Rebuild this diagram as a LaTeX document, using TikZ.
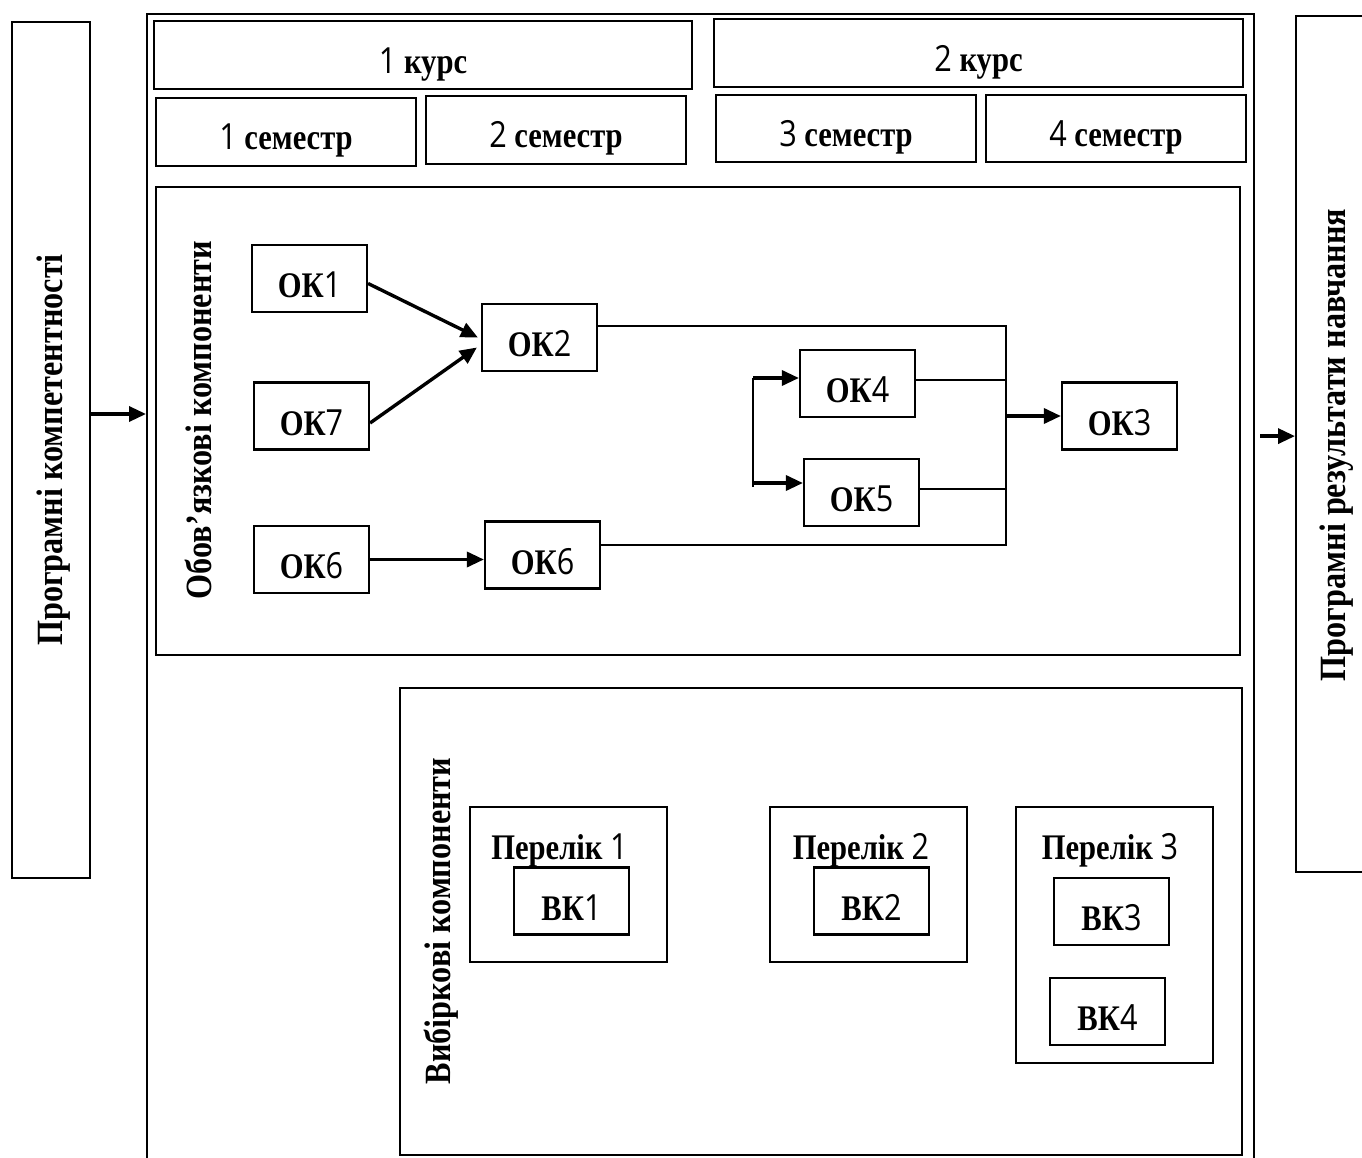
\documentclass[tikz,border=0pt]{standalone}
\usepackage{fontspec}
\setmainfont{Liberation Serif}
\newfontfamily\digitfont{Open Sans}
\usetikzlibrary{arrows.meta}
\newcommand\nd[1]{{\digitfont\mdseries #1}}
\newcommand\cx[1]{\scalebox{0.85}[1]{#1}}
\newcommand\vx[1]{\scalebox{0.87}[1]{#1}}
\begin{document}
\begin{tikzpicture}[x=1pt,y=-1pt,
  box/.style={draw, line width=2.2pt, inner sep=0pt},
  okbox/.style={box, minimum width=115pt, minimum height=67pt},
  txt/.style={font=\fontsize{36}{40}\selectfont\bfseries, inner sep=0pt, anchor=base},
  vtxt/.style={font=\fontsize{37}{40}\selectfont\bfseries, inner sep=0pt, rotate=90},
  ln/.style={line width=1.9pt},
  arr/.style={line width=3.4pt, -{Triangle[length=17pt,width=15pt]}}]
\useasboundingbox (0,0) rectangle (1362,1158);
% outer frames
\node[box, minimum width=78pt, minimum height=856pt] (lb) at (51,450) {};
\node[box, minimum width=1107pt, minimum height=1162pt, anchor=north west] (outer) at (146,13) {};
\node[box, minimum width=80pt, minimum height=856pt, anchor=north west] (rb) at (1295,15) {};
\node[vtxt] (lbt) at (54,450) {\vx{Програмні компетентності}};
\node[vtxt] (rbt) at (1337,445) {\vx{Програмні результати навчання}};
% years / semesters
\node[box, minimum width=538pt, minimum height=68pt] (y1) at (423,55) {};
\node[box, minimum width=529pt, minimum height=68pt] (y2) at (978.5,53) {};
\node[box, minimum width=260pt, minimum height=68pt] (s1) at (286,132) {};
\node[box, minimum width=260pt, minimum height=68pt] (s2) at (556,130) {};
\node[box, minimum width=260pt, minimum height=67pt] (s3) at (846,128.5) {};
\node[box, minimum width=260pt, minimum height=67pt] (s4) at (1116,128.5) {};
\node[txt] (y1t) at ([yshift=-19pt]y1.center) {\cx{\nd{1} курс}};
\node[txt] (y2t) at ([yshift=-19pt]y2.center) {\cx{\nd{2} курс}};
\node[txt] (s1t) at ([yshift=-18pt]s1.center) {\cx{\nd{1} семестр}};
\node[txt] (s2t) at ([yshift=-18pt]s2.center) {\cx{\nd{2} семестр}};
\node[txt] (s3t) at ([yshift=-18pt]s3.center) {\cx{\nd{3} семестр}};
\node[txt] (s4t) at ([yshift=-18pt]s4.center) {\cx{\nd{4} семестр}};
% mandatory components
\node[box, minimum width=1084pt, minimum height=468pt] (mand) at (698,421) {};
\node[vtxt] (mandt) at (198,420) {\vx{Обов’язкові компоненти}};
\node[okbox] (ok1) at (309.5,278.5) {};
\node[okbox] (ok2) at (539.5,337.5) {};
\node[okbox] (ok7) at (311.5,416) {};
\node[okbox] (ok6a) at (311.5,559.5) {};
\node[okbox] (ok6b) at (542.5,555) {};
\node[okbox] (ok4) at (857.5,383.5) {};
\node[okbox] (ok5) at (861.5,492.5) {};
\node[okbox] (ok3) at (1119.5,416) {};
\node[txt] (ok1t) at ([yshift=-19pt]ok1.center) {\cx{ОК\nd{1}}};
\node[txt] (ok2t) at ([yshift=-19pt]ok2.center) {\cx{ОК\nd{2}}};
\node[txt] (ok7t) at ([yshift=-19pt]ok7.center) {\cx{ОК\nd{7}}};
\node[txt] (ok6at) at ([yshift=-19pt]ok6a.center) {\cx{ОК\nd{6}}};
\node[txt] (ok6bt) at ([yshift=-19pt]ok6b.center) {\cx{ОК\nd{6}}};
\node[txt] (ok4t) at ([yshift=-19pt]ok4.center) {\cx{ОК\nd{4}}};
\node[txt] (ok5t) at ([yshift=-19pt]ok5.center) {\cx{ОК\nd{5}}};
\node[txt] (ok3t) at ([yshift=-19pt]ok3.center) {\cx{ОК\nd{3}}};
% connectors
\draw[arr] ([yshift=-5pt]ok1.east) -- ([xshift=-3pt]ok2.west);
\draw[arr] ([yshift=-7pt]ok7.east) -- ([xshift=-4pt,yshift=-10pt]ok2.west);
\draw[arr] (ok6a.east) -- (ok6a.east -| ok6b.west);
\coordinate (bb) at (1006,545);
\coordinate (br1) at (753,378);
\coordinate (br2) at (753,487);
\draw[ln] ([yshift=11.5pt]ok2.east) -| (bb) -- ([yshift=10pt]ok6b.east);
\coordinate (o4e) at ([yshift=3.5pt]ok4.east);
\coordinate (o5e) at ([yshift=3.5pt]ok5.east);
\draw[ln] (o4e) -- (o4e -| bb);
\draw[ln] (o5e) -- (o5e -| bb);
\draw[arr] (bb |- ok3.west) -- (ok3.west);
\draw[ln] (br1) -- (br2);
\draw[arr] (br1) -- (br1 -| ok4.west);
\draw[arr] ([yshift=4pt]br2) -- ([yshift=4pt]br2 -| ok5.west);
% elective components
\node[box, minimum width=842pt, minimum height=467pt] (elec) at (821,921.5) {};
\node[vtxt] (elect) at (441,921) {\vx{Вибіркові компоненти}};
\node[box, minimum width=197pt, minimum height=155pt] (p1) at (568.5,884.5) {};
\node[box, minimum width=197pt, minimum height=155pt] (p2) at (868.5,884.5) {};
\node[box, minimum width=197pt, minimum height=256pt] (p3) at (1114.5,935) {};
\node[txt] (p1t) at (559.5,859) {\cx{Перелік \nd{1}}};
\node[txt] (p2t) at (861,859) {\cx{Перелік \nd{2}}};
\node[txt] (p3t) at (1110,859) {\cx{Перелік \nd{3}}};
\node[okbox] (vk1) at (571.5,901) {};
\node[okbox] (vk2) at (871.5,901) {};
\node[okbox] (vk3) at (1111.5,911.5) {};
\node[okbox] (vk4) at (1107.5,1011.5) {};
\node[txt] (vk1t) at ([yshift=-19pt]vk1.center) {\cx{ВК\nd{1}}};
\node[txt] (vk2t) at ([yshift=-19pt]vk2.center) {\cx{ВК\nd{2}}};
\node[txt] (vk3t) at ([yshift=-19pt]vk3.center) {\cx{ВК\nd{3}}};
\node[txt] (vk4t) at ([yshift=-19pt]vk4.center) {\cx{ВК\nd{4}}};
% arrows between outer boxes
\coordinate (la) at ([yshift=36pt]lb.east);
\draw[arr] (la) -- (la -| outer.west);
\coordinate (ra) at ([yshift=8pt]rb.west);
\draw[arr] ([xshift=5pt]ra -| outer.east) -- (ra);
\end{tikzpicture}
\end{document}
